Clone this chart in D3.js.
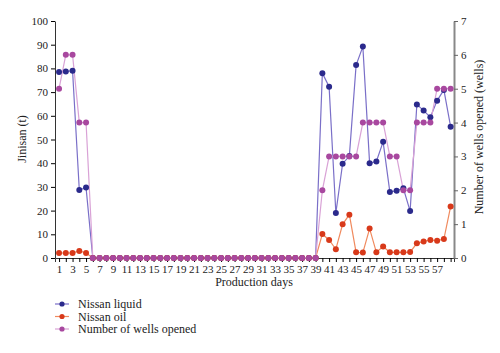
<!DOCTYPE html>
<html lang="en">
<head>
    <meta charset="UTF-8">
    <title>Production days</title>
    <script src="https://d3js.org/d3.v7.min.js"></script>
    <style>
        body { margin: 0; background: white; }
        text { font-family: "Liberation Serif", "DejaVu Serif", serif; fill: #222; }
    </style>
</head>
<body>
    <svg width="500" height="353"></svg>

    <script>
        // Data
        const days = [1, 2, 3, 4, 5, 6, 7, 8, 9, 10, 11, 12, 13, 14, 15, 16, 17, 18, 19, 20,
                      21, 22, 23, 24, 25, 26, 27, 28, 29, 30, 31, 32, 33, 34, 35, 36, 37, 38, 39, 40,
                      41, 42, 43, 44, 45, 46, 47, 48, 49, 50, 51, 52, 53, 54, 55, 56, 57, 58, 59];

        const liquid = [78.5, 78.7, 79, 28.7, 29.7,
                        0, 0, 0, 0, 0, 0, 0, 0, 0, 0, 0, 0, 0, 0, 0, 0, 0,
                        0, 0, 0, 0, 0, 0, 0, 0, 0, 0, 0, 0, 0, 0, 0, 0, 0,
                        78, 72.3, 19, 39.8, 43, 81.4, 89.2, 40, 40.7, 49,
                        27.8, 28.4, 29.4, 19.8, 64.8, 62.2, 59.4, 66.4, 70.9, 55.4];

        const oil = [2.1, 2.1, 2.1, 3.0, 2.1,
                     0, 0, 0, 0, 0, 0, 0, 0, 0, 0, 0, 0, 0, 0, 0, 0, 0,
                     0, 0, 0, 0, 0, 0, 0, 0, 0, 0, 0, 0, 0, 0, 0, 0, 0,
                     10.1, 7.6, 3.7, 14.2, 18.3, 2.4, 2.3, 12.4, 2.4, 4.8,
                     2.4, 2.4, 2.4, 2.5, 6.2, 7.0, 7.6, 7.3, 8.0, 21.7];

        const wells = [5, 6, 6, 4, 4,
                       0, 0, 0, 0, 0, 0, 0, 0, 0, 0, 0, 0, 0, 0, 0, 0, 0,
                       0, 0, 0, 0, 0, 0, 0, 0, 0, 0, 0, 0, 0, 0, 0, 0, 0,
                       2, 3, 3, 3, 3, 3, 4, 4, 4, 4,
                       3, 3, 2, 2, 4, 4, 4, 5, 5, 5];

        const leftTicks = [0, 10, 20, 30, 40, 50, 60, 70, 80, 90, 100];
        const rightTicks = [0, 1, 2, 3, 4, 5, 6, 7];

        const svg = d3.select("svg");

        const xScale = d3.scaleLinear().domain([0.4, 59.5]).range([55, 454]);
        const yLeft = d3.scaleLinear().domain([0, 100]).range([258, 21]);
        const yRight = d3.scaleLinear().domain([0, 7]).range([258, 21]);

        // Bottom axis: tick every day, label odd days up to 57
        const xAxis = svg.append("g")
            .attr("transform", "translate(0,258)")
            .call(d3.axisBottom(xScale)
                .tickValues(days)
                .tickSizeOuter(0)
                .tickSize(4)
                .tickPadding(3)
                .tickFormat(d => (d % 2 === 1 && d <= 57) ? d : ""));
        xAxis.selectAll("text").style("font-size", "11px");

        // Left axis
        const yAxisL = svg.append("g")
            .attr("transform", "translate(55,0)")
            .call(d3.axisLeft(yLeft).tickValues(leftTicks).tickSize(4).tickSizeOuter(0).tickPadding(3));
        yAxisL.selectAll("text").style("font-size", "11px");

        // Right axis (grey)
        const yAxisR = svg.append("g")
            .attr("transform", "translate(454,0)")
            .call(d3.axisRight(yRight).tickValues(rightTicks).tickFormat(d3.format("d"))
                .tickSize(4).tickSizeOuter(0).tickPadding(3));
        yAxisR.selectAll("text").style("font-size", "11px");
        yAxisR.select(".domain").attr("stroke", "#888").attr("stroke-width", 2);
        yAxisR.selectAll(".tick line").attr("stroke", "#666");

        svg.selectAll(".domain").filter(function () { return this.parentNode !== yAxisR.node(); })
            .attr("stroke", "#333");

        const series = [
            { name: "Nissan liquid", values: liquid, scale: yLeft, line: "#7a6fc8", dot: "#2b2a8c" },
            { name: "Nissan oil", values: oil, scale: yLeft, line: "#f08a5e", dot: "#d8391a" },
            { name: "Number of wells opened", values: wells, scale: yRight, line: "#d9a2d6", dot: "#a8489f" }
        ];

        // Lines
        series.forEach(s => {
            const line = d3.line()
                .x((d, i) => xScale(days[i]))
                .y(d => s.scale(d));
            svg.append("path")
                .datum(s.values)
                .attr("fill", "none")
                .attr("stroke", s.line)
                .attr("stroke-width", 1.2)
                .attr("d", line);
        });

        // Dots
        series.forEach(s => {
            svg.append("g").selectAll("circle")
                .data(s.values)
                .enter().append("circle")
                .attr("cx", (d, i) => xScale(days[i]))
                .attr("cy", d => s.scale(d))
                .attr("r", 3)
                .attr("fill", s.dot);
        });

        // Axis titles
        svg.append("text")
            .attr("transform", "rotate(-90)")
            .attr("x", -139)
            .attr("y", 26)
            .attr("text-anchor", "middle")
            .style("font-size", "12px")
            .text("Jinisan (t)");

        svg.append("text")
            .attr("transform", "rotate(-90)")
            .attr("x", -137)
            .attr("y", 483)
            .attr("text-anchor", "middle")
            .style("font-size", "12px")
            .text("Number of wells opened (wells)");

        svg.append("text")
            .attr("x", 254)
            .attr("y", 286)
            .attr("text-anchor", "middle")
            .style("font-size", "12px")
            .text("Production days");

        // Legend
        const legend = svg.append("g").attr("transform", "translate(55,304)");
        series.forEach((s, i) => {
            const g = legend.append("g").attr("transform", `translate(0,${i * 12.5})`);
            g.append("line").attr("x1", 0).attr("x2", 14).attr("y1", 0).attr("y2", 0)
                .attr("stroke", s.line).attr("stroke-width", 1.2);
            g.append("circle").attr("cx", 7).attr("cy", 0).attr("r", 2.6).attr("fill", s.dot);
            g.append("text").attr("x", 23).attr("y", 4).style("font-size", "12px").text(s.name);
        });
    </script>
</body>
</html>
